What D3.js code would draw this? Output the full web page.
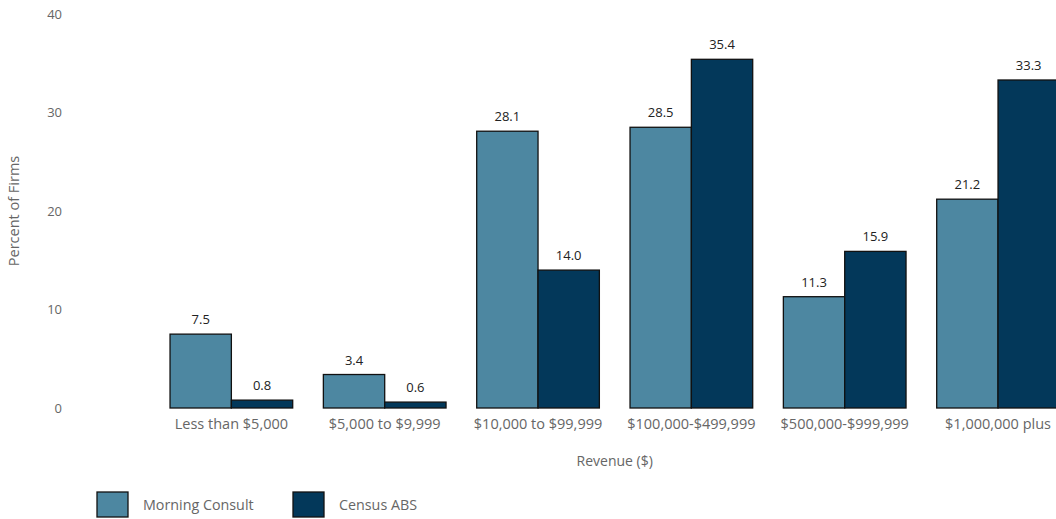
<!DOCTYPE html>
<html>
<head>
<meta charset="utf-8">
<script src="https://cdn.jsdelivr.net/npm/d3@7"></script>
<style>
  body { margin: 0; background: #fff; }
  svg { display: block; font-family: "Open Sans", sans-serif; }
</style>
</head>
<body>
<svg id="chart"></svg>
<script>
var categories = ["Less than $5,000", "$5,000 to $9,999", "$10,000 to $99,999",
                  "$100,000-$499,999", "$500,000-$999,999", "$1,000,000 plus"];
var series_names = ["Morning Consult", "Census ABS"];
var morning_consult = [7.5, 3.4, 28.1, 28.5, 11.3, 21.2];
var census_abs = [0.8, 0.6, 14.0, 35.4, 15.9, 33.3];
var y_ticks = [0, 10, 20, 30, 40];

var width = 1056, height = 519;
var colors = ["#4d87a1", "#03385a"];
var left = 154.7, right = 1074.7, top_y = 14, bottom_y = 408;

var svg = d3.select("#chart").attr("width", width).attr("height", height);

var x = d3.scaleBand().domain(categories).range([left, right])
    .paddingInner(0.2).paddingOuter(0.1);
var xs = d3.scaleBand().domain(series_names).range([0, x.bandwidth()]);
var y = d3.scaleLinear().domain([0, 40]).range([bottom_y, top_y]);

// y axis ticks (no line)
var yAxis = svg.append("g")
    .attr("transform", "translate(62,0)")
    .call(d3.axisLeft(y).tickValues(y_ticks).tickSize(0).tickPadding(0));
yAxis.select(".domain").remove();
yAxis.selectAll("text").style("font-size", "13px").style("fill", "#666")
    .style("font-family", "'Open Sans', sans-serif");

// x axis labels
var xAxis = svg.append("g")
    .attr("transform", "translate(0," + (bottom_y + 11) + ")")
    .call(d3.axisBottom(x).tickSize(0).tickPadding(0));
xAxis.select(".domain").remove();
xAxis.selectAll("text").style("font-size", "14.5px").style("fill", "#666")
    .style("font-family", "'Open Sans', sans-serif");

var data = categories.map(function(c, i){
    return {cat: c, values: [morning_consult[i], census_abs[i]]};
});

var groups = svg.selectAll(".grp").data(data).enter().append("g")
    .attr("class", "grp")
    .attr("transform", function(d){ return "translate(" + x(d.cat) + ",0)"; });

var bars = groups.selectAll(".bar")
    .data(function(d){ return d.values.map(function(v, j){ return {s: series_names[j], v: v, j: j}; }); })
    .enter();

bars.append("rect")
    .attr("x", function(d){ return xs(d.s); })
    .attr("y", function(d){ return y(d.v); })
    .attr("width", xs.bandwidth())
    .attr("height", function(d){ return y(0) - y(d.v); })
    .attr("fill", function(d){ return colors[d.j]; })
    .attr("stroke", "#111")
    .attr("stroke-width", 1.3);

bars.append("text")
    .attr("x", function(d){ return xs(d.s) + xs.bandwidth()/2; })
    .attr("y", function(d){ return y(d.v) - 10; })
    .attr("text-anchor", "middle")
    .style("font-size", "13px")
    .style("fill", "#222")
    .text(function(d){ return d.v.toFixed(1); });

// axis titles
svg.append("text")
    .attr("x", (left + right)/2).attr("y", 466)
    .attr("text-anchor", "middle")
    .style("font-size", "14px").style("fill", "#666")
    .text("Revenue ($)");

svg.append("text")
    .attr("transform", "translate(19," + ((top_y + bottom_y)/2) + ") rotate(-90)")
    .attr("text-anchor", "middle")
    .style("font-size", "14.5px").style("fill", "#666")
    .text("Percent of Firms");

// legend
var legend = svg.selectAll(".leg").data(series_names).enter().append("g")
    .attr("class", "leg")
    .attr("transform", function(d, i){ return "translate(" + (97 + i*196) + ",492)"; });
legend.append("rect")
    .attr("width", 31).attr("height", 25)
    .attr("fill", function(d, i){ return colors[i]; })
    .attr("stroke", "#111").attr("stroke-width", 1.3);
legend.append("text")
    .attr("x", 46).attr("y", 18)
    .style("font-size", "14.3px").style("fill", "#666")
    .text(function(d){ return d; });
</script>
</body>
</html>
